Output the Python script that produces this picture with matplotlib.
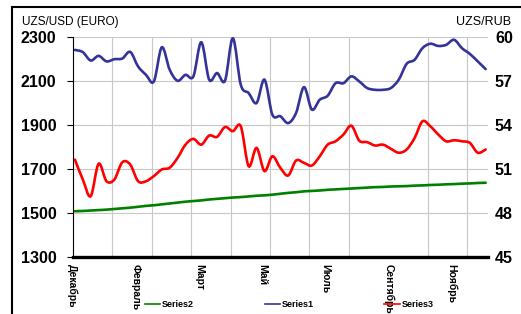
#!/usr/bin/env python3
import numpy as np
import matplotlib
matplotlib.use("Agg")
import matplotlib.pyplot as plt
from matplotlib.patches import Rectangle, PathPatch
from matplotlib.path import Path
from matplotlib.lines import Line2D

plt.rcParams['font.family'] = ['Liberation Sans', 'DejaVu Sans']

# weekly rates, Dec 2009 .. Dec 2010
month_labels = ['Декабрь', 'Февраль', 'Март', 'Май', 'Июль', 'Сентябрь', 'Ноябрь']

euro = [2240, 2230, 2192, 2213, 2188, 2198, 2201, 2231, 2165, 2127,
        2097, 2252, 2150, 2100, 2127, 2120, 2275, 2105, 2135, 2100,
        2293, 2082, 2044, 1999, 2105, 1946, 1939, 1908, 1954, 2071,
        1969, 2014, 2032, 2089, 2089, 2120, 2097, 2067, 2059, 2059,
        2067, 2105, 2177, 2195, 2248, 2268, 2258, 2263, 2286, 2248,
        2222, 2188, 2153]

usd = [1508, 1509, 1511, 1513, 1515, 1518, 1521, 1524, 1528, 1532,
       1535, 1539, 1543, 1547, 1551, 1554, 1557, 1561, 1564, 1567,
       1570, 1572, 1575, 1578, 1580, 1583, 1587, 1591, 1594, 1598,
       1600, 1602, 1605, 1607, 1609, 1611, 1613, 1615, 1617, 1618,
       1620, 1621, 1622, 1624, 1625, 1627, 1628, 1630, 1631, 1633,
       1634, 1636, 1637]

rub = [51.63, 50.28, 49.14, 51.35, 50.16, 50.28, 51.45, 51.30, 50.16, 50.16,
       50.51, 50.96, 51.08, 51.75, 52.65, 53.04, 52.65, 53.27, 53.18, 53.85,
       53.57, 53.90, 51.18, 52.43, 50.85, 51.86, 51.08, 50.55, 51.57, 51.41,
       51.23, 51.86, 52.65, 52.88, 53.34, 53.94, 52.92, 52.82, 52.59, 52.65,
       52.37, 52.10, 52.32, 53.10, 54.24, 53.90, 53.34, 52.88, 52.95, 52.88,
       52.77, 52.10, 52.32]

left_ticks = [1300, 1500, 1700, 1900, 2100, 2300]
right_ticks = [45, 48, 51, 54, 57, 60]

weeks = np.arange(len(euro))


def smooth_line(ax, x, y, color):
    # Excel-style smoothed line: bezier segments through the data points
    pts = np.column_stack([x, y]).astype(float)
    verts = [pts[0]]
    codes = [Path.MOVETO]
    n = len(pts)
    for i in range(n - 1):
        p0 = pts[i - 1] if i > 0 else pts[i]
        p1, p2 = pts[i], pts[i + 1]
        p3 = pts[i + 2] if i + 2 < n else pts[i + 1]
        verts += [p1 + (p2 - p0) / 6, p2 - (p3 - p1) / 6, p2]
        codes += [Path.CURVE4] * 3
    ax.add_patch(PathPatch(Path(verts, codes), fill=False, edgecolor=color,
                           lw=1.9, capstyle='round', joinstyle='round'))
    return Line2D([0], [0], color=color, lw=1.2)


fig = plt.figure(figsize=(5.21, 3.14), dpi=100)
ax = fig.add_axes([0.1392, 0.1815, 0.7975, 0.7016])
ax2 = ax.twinx()

h_euro = smooth_line(ax, weeks, euro, '#333399')
h_usd = smooth_line(ax, weeks, usd, '#008000')
h_rub = smooth_line(ax2, weeks, rub, '#ff0000')

ax.set_xlim(-0.3, 52.3)
ax.set_ylim(1300, 2300)
ax2.set_ylim(45, 60)

# category ticks: gridlines every 5 weeks, labels every 8 weeks
ax.set_xticks(np.arange(0, 53, 8) - 0.3, month_labels, rotation=-90,
              fontsize=7.5, fontweight='bold')
ax.set_xticks(np.arange(5, 53, 5) - 0.3, minor=True)
ax.tick_params(axis='x', which='both', length=0, pad=5)
ax.xaxis.grid(True, which='minor', color='#c8c8c8', lw=0.8)
ax.yaxis.grid(True, which='major', color='#c8c8c8', lw=0.8)
ax.set_axisbelow(True)

ax.set_yticks(left_ticks, [str(v) for v in left_ticks], fontsize=11.5, fontweight='bold')
ax.tick_params(axis='y', direction='out', length=4.5, width=0.8, pad=7)

ax2.set_yticks(right_ticks, [str(v) for v in right_ticks], fontsize=11.5, fontweight='bold')
ax2.tick_params(axis='y', length=0, pad=5)

for s in ['top', 'right']:
    ax.spines[s].set_visible(False)
for s in ax2.spines.values():
    s.set_visible(False)
ax.spines['left'].set_linewidth(0.8)
ax.spines['bottom'].set_linewidth(2.4)

# axis titles
fig.text(22/521, 0.920, 'UZS/USD (EURO)', fontsize=8.5, va='baseline')
fig.text(456/521, 0.920, 'UZS/RUB', fontsize=9, va='baseline')

fig.legend(handles=[h_usd, h_euro, h_rub], labels=['Series2', 'Series1', 'Series3'],
           loc='center left', bbox_to_anchor=(145/521, 0.029), ncol=3, frameon=False,
           prop={'size': 6.5, 'weight': 'bold'}, handlelength=1.7, handletextpad=0.2,
           columnspacing=7.8, borderpad=0, borderaxespad=0)

frame = Rectangle((12/521, -0.5), 2, 0.9777 + 0.5, transform=fig.transFigure,
                  fill=False, lw=1.5, edgecolor='black')
fig.add_artist(frame)

fig.savefig('out.png', dpi=100)
